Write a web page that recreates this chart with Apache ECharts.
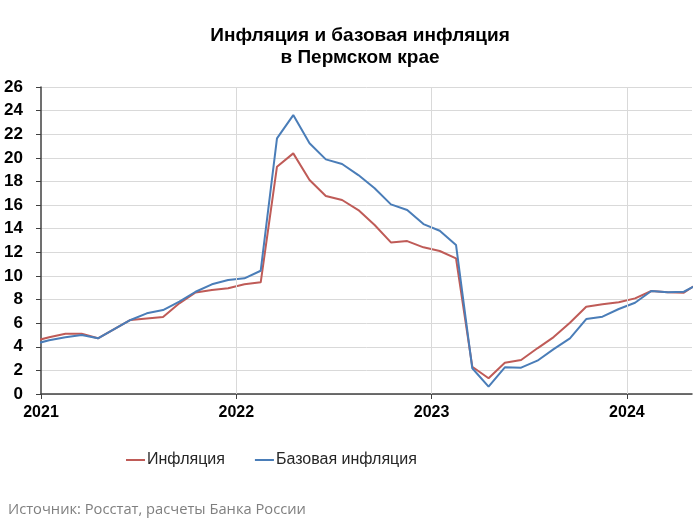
<!DOCTYPE html>
<html>
<head>
<meta charset="utf-8">
<script src="https://cdn.jsdelivr.net/npm/echarts@6/dist/echarts.min.js"></script>
<style>
html,body{margin:0;padding:0;background:#fff;}
#c{width:694px;height:521px;}
</style>
</head>
<body>
<div id="c"></div>
<script>
// Monthly data, Dec 2020 .. May 2024 (first and last points fall just outside the axis and are clipped)
var startYear = 2020, startMonth = 12;
var inflation = [4.45, 4.8, 5.1, 5.1, 4.72, 5.5, 6.27, 6.4, 6.52, 7.68, 8.6, 8.8, 8.95,
  9.3, 9.46, 19.25, 20.38, 18.12, 16.77, 16.43, 15.58, 14.31, 12.84, 12.95, 12.42,
  12.11, 11.49, 2.31, 1.33, 2.65, 2.88, 3.87, 4.82, 6.04, 7.39, 7.6, 7.77,
  8.1, 8.72, 8.61, 8.58, 9.5];
var coreInflation = [4.2, 4.55, 4.8, 5.0, 4.72, 5.5, 6.27, 6.83, 7.11, 7.82, 8.66, 9.29, 9.65,
  9.8, 10.44, 21.65, 23.62, 21.23, 19.87, 19.48, 18.54, 17.42, 16.06, 15.58, 14.39,
  13.83, 12.62, 2.18, 0.62, 2.26, 2.23, 2.82, 3.8, 4.71, 6.35, 6.55, 7.2,
  7.73, 8.72, 8.61, 8.66, 9.4];
var yearTicks = [2021, 2022, 2023, 2024];
var seriesNames = ['Инфляция', 'Базовая инфляция'];

function toPoints(arr) {
  return arr.map(function (v, i) {
    var m = (startYear - 2021) * 12 + (startMonth - 1) + i; // months since Jan 2021
    return [m + 0.5, v];
  });
}
var tickVals = yearTicks.map(function (y) { return (y - 2021) * 12; });

var chart = echarts.init(document.getElementById('c'), null, {renderer: 'canvas'});
var fontFam = '"Liberation Sans", Arial, sans-serif';
chart.setOption({
  animation: false,
  backgroundColor: '#ffffff',
  graphic: [
    {type: 'text', x: 360, y: 25, style: {text: 'Инфляция и базовая инфляция\nв Пермском крае',
      font: 'bold 19px ' + fontFam, fill: '#000', textAlign: 'center', lineHeight: 22}},
    {type: 'text', left: 8, top: 502, style: {text: 'Источник: Росстат, расчеты Банка России',
      font: '14.7px "Open Sans", sans-serif', fill: '#7f7f7f'}}
  ],
  legend: {
    left: 121, top: 447,
    itemWidth: 19, itemHeight: 2, itemGap: 30, icon: 'rect',
    textStyle: {fontFamily: fontFam, fontSize: 16, color: '#262626', padding: [0, 0, 0, -3]},
    data: seriesNames
  },
  grid: {left: 41, right: 2, top: 87, bottom: 127, containLabel: false},
  xAxis: {
    type: 'value', min: 0, max: 40, interval: 12,
    axisLine: {show: true, lineStyle: {color: '#404040', width: 1.5}},
    axisTick: {show: true, length: 5, lineStyle: {color: '#404040'}, customValues: tickVals},
    axisLabel: {show: true, margin: 11, customValues: tickVals,
      formatter: function (v) { return String(yearTicks[0] + Math.round(v / 12)); },
      fontFamily: fontFam, fontWeight: 'bold', fontSize: 16, color: '#000'},
    splitLine: {show: false}
  },
  yAxis: {
    type: 'value', min: 0, max: 26, interval: 2,
    axisLine: {show: true, lineStyle: {color: '#404040', width: 1.5}},
    axisTick: {show: true, length: 5, lineStyle: {color: '#404040'}},
    axisLabel: {margin: 18, fontFamily: fontFam, fontWeight: 'bold', fontSize: 17, color: '#000'},
    splitLine: {show: true, lineStyle: {color: '#d9d9d9', width: 1}}
  },
  series: [
    {name: seriesNames[0], type: 'line', data: toPoints(inflation), showSymbol: false, symbol: 'none',
      clip: true, lineStyle: {color: '#bf5b57', width: 2}, itemStyle: {color: '#bf5b57'}, z: 2,
      markLine: {silent: true, symbol: 'none', label: {show: false}, animation: false,
        lineStyle: {color: '#d9d9d9', width: 1, type: 'solid'},
        data: tickVals.slice(1).map(function (v) { return {xAxis: v}; })}},
    {name: seriesNames[1], type: 'line', data: toPoints(coreInflation), showSymbol: false, symbol: 'none',
      clip: true, lineStyle: {color: '#4a7db8', width: 2}, itemStyle: {color: '#4a7db8'}, z: 3}
  ]
});
</script>
</body>
</html>
